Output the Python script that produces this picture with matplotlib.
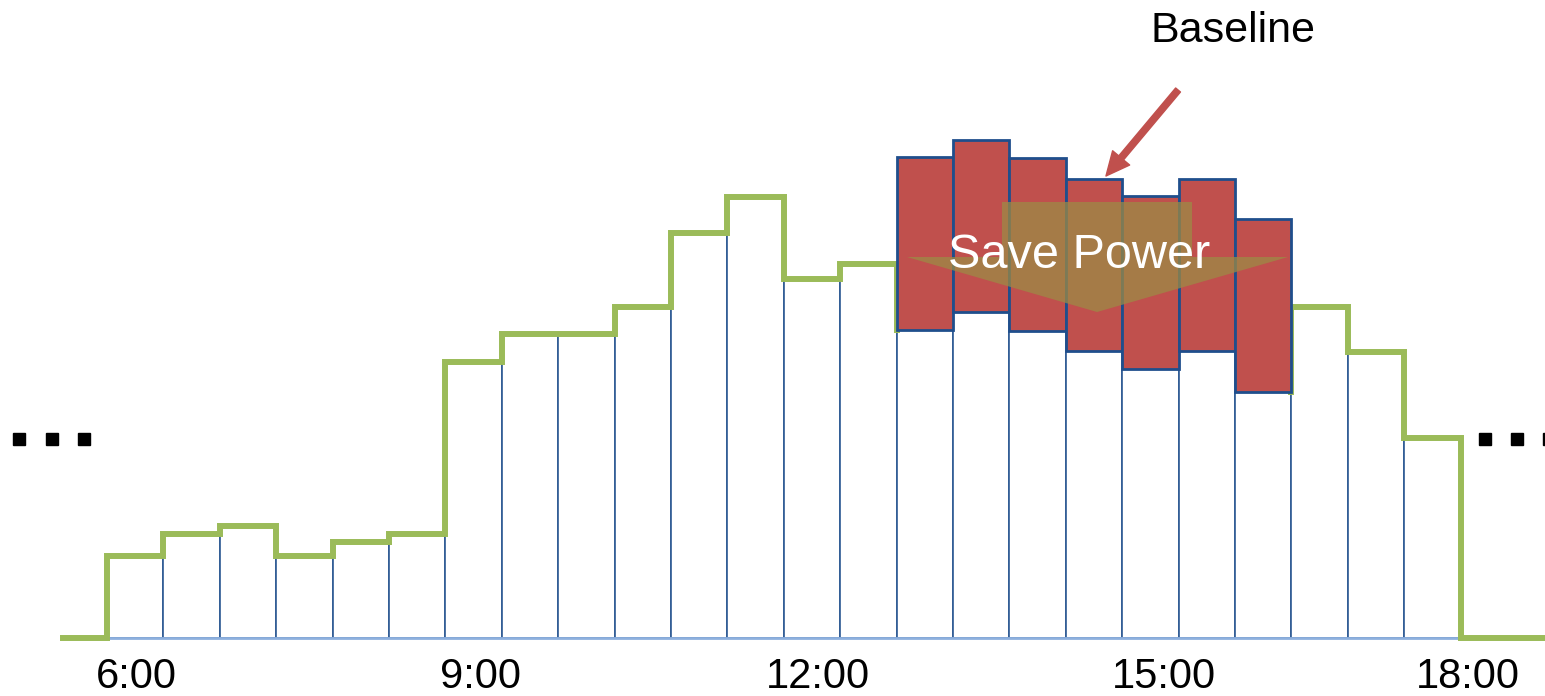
"""
Peak-shift chart: actual load (green step) vs baseline (red) between 6:00 and 18:00
"""
import matplotlib
matplotlib.use("Agg")
import matplotlib.pyplot as plt
import numpy as np
from matplotlib.patches import Polygon

# ── Data (30-min slots, 6:00 → 18:00) ─────────────────────────────────────────
slot_start = [6 + 0.5 * i for i in range(24)]
actual = [8.2, 10.4, 11.2, 8.2, 9.6, 10.4, 27.6, 30.4, 30.4, 33.1, 40.5, 44.1,
          35.9, 37.4, 30.8, 32.6, 30.7, 28.7, 26.9, 28.7, 24.6, 33.1, 28.6, 20.0]
# baseline only shown for the saving window (slots 15..21)
saving_slots = [13.0, 13.5, 14.0, 14.5, 15.0, 15.5, 16.0]
saving_actual = [30.8, 32.6, 30.7, 28.7, 26.9, 28.7, 24.6]
baseline = [48.1, 49.8, 48.0, 45.9, 44.2, 45.9, 41.9]
tick_labels = ["6:00", "9:00", "12:00", "15:00", "18:00"]

# ── Colours ───────────────────────────────────────────────────────────────────
GREEN = "#9BBB59"
RED = "#C0504D"
EDGE = "#2E5A94"
EDGE_LIGHT = "#8DB0DE"

fig = plt.figure(figsize=(15.45, 6.96), dpi=100)
ax = fig.add_axes([0, 0, 1, 1])
ax.set_xlim(5.0514, 18.748)
ax.set_ylim(-5.8, 63.8)
ax.axis("off")

# white slots with thin blue outline
ax.bar(slot_start, actual, width=0.5, align="edge", facecolor="white",
       edgecolor=EDGE, linewidth=1.2, zorder=1)
ax.plot([6, 18], [0, 0], color=EDGE_LIGHT, lw=2, zorder=1.5)

# green actual-load step line, hidden under the saving window
w0, w1 = saving_slots[0], saving_slots[-1] + 0.5
left_x, left_y = [5.61, 6.0], [0.0, 0.0]
right_x, right_y = [w1], [saving_actual[-1]]
for x0, v in zip(slot_start, actual):
    if x0 + 0.5 <= w0:
        left_x += [x0, x0 + 0.5]
        left_y += [v, v]
    elif x0 >= w1:
        right_x += [x0, x0 + 0.5]
        right_y += [v, v]
left_x += [w0]
left_y += [saving_actual[0]]
right_x += [18.0, 18.8]
right_y += [0.0, 0.0]
ax.plot(left_x, left_y, color=GREEN, lw=4.3, zorder=2, solid_joinstyle="miter")
ax.plot(right_x, right_y, color=GREEN, lw=4.3, zorder=2, solid_joinstyle="miter")

# red baseline part
heights = [b - a for a, b in zip(saving_actual, baseline)]
ax.bar(saving_slots, heights, bottom=saving_actual, width=0.5, align="edge",
       facecolor=RED, edgecolor="#1F4E8C", linewidth=2.0, zorder=3)

# translucent "Save Power" arrow
arrow_pts = [(13.934, 43.6), (15.619, 43.6), (15.619, 38.1), (16.470, 38.1),
             (14.777, 32.6), (13.092, 38.1), (13.934, 38.1)]
ax.add_patch(Polygon(arrow_pts, closed=True, facecolor="#9C8A45",
                     edgecolor="none", alpha=0.75, zorder=4))
ax.text(14.617, 37.0, "Save Power", color="white", fontsize=35,
        family="Liberation Sans", ha="center", va="baseline", zorder=5)

# Baseline label + arrow
ax.text(15.982, 59.6, "Baseline", color="black", fontsize=31,
        family="Liberation Sans", ha="center", va="baseline", zorder=5)
ax.annotate("", xy=(14.856, 46.2), xytext=(15.495, 54.8),
            arrowprops=dict(facecolor=RED, edgecolor=RED, width=4.5,
                            headwidth=16, headlength=17, shrink=0),
            zorder=5)

# continuation dots
ax.plot([5.224, 5.508, 5.792], [19.85] * 3, "s", color="black", ms=8, zorder=5)
ax.plot([18.216, 18.50, 18.783], [19.85] * 3, "s", color="black", ms=8,
        zorder=5, clip_on=True)

# time labels
tick_pos = [6.26, 9.31, 12.30, 15.37, 18.06]
for xp, lab in zip(tick_pos, tick_labels):
    ax.text(xp, -5.0, lab, fontsize=30, family="Liberation Sans",
            ha="center", va="baseline", color="black")

plt.savefig("out.png", dpi=100, facecolor="white")
print("Saved: out.png")
